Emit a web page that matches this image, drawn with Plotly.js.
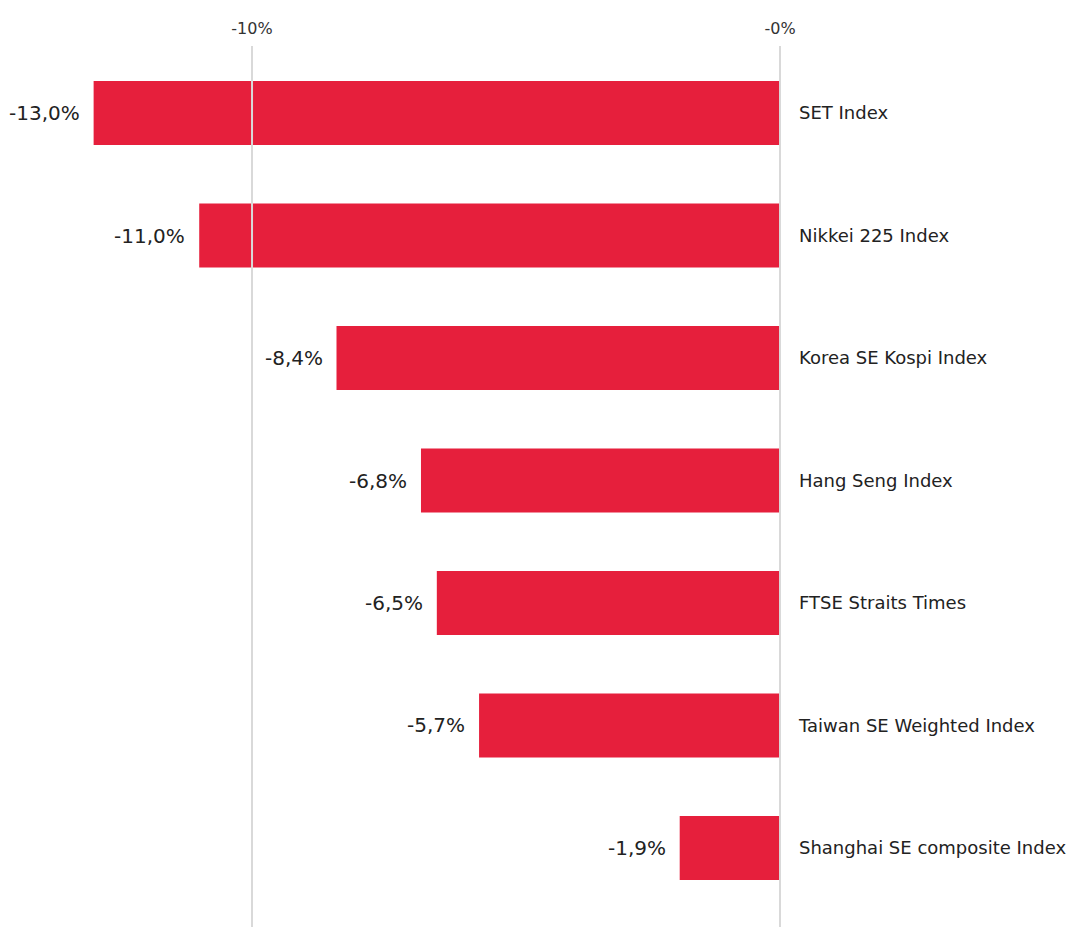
<!DOCTYPE html>
<html>
<head>
<meta charset="utf-8">
<script src="https://cdn.plot.ly/plotly-3.0.1.min.js"></script>
<style>html,body{margin:0;padding:0;background:#fff;}#chart{width:1080px;height:927px;}</style>
</head>
<body>
<div id="chart"></div>
<script>
const categories = ["SET Index","Nikkei 225 Index","Korea SE Kospi Index","Hang Seng Index","FTSE Straits Times","Taiwan SE Weighted Index","Shanghai SE composite Index"];
const values = [-13.0, -11.0, -8.4, -6.8, -6.5, -5.7, -1.9];
const tickVals = [-10, 0];
const tickText = ["-10%", "-0%"];

const FONT = "DejaVu Sans, Noto Sans, sans-serif";
const labels = values.map(v => v.toFixed(1).replace('.', ',') + '%');

const trace = {
  type: 'bar',
  orientation: 'h',
  x: values,
  y: categories,
  width: 0.522,
  marker: {color: '#e61f3c'},
  hoverinfo: 'none'
};

const annotations = values.map((v, i) => ({
  x: v, y: categories[i], xref: 'x', yref: 'y',
  text: labels[i], showarrow: false,
  xanchor: 'right', yanchor: 'middle', xshift: -12,
  font: {family: FONT, size: 20, color: '#222'}
}));

// grid lines drawn above the bars, at the tick positions
const shapes = tickVals.map(t => ({
  type: 'line', layer: 'above',
  xref: 'x', yref: 'paper', x0: t, x1: t, y0: 0, y1: 1,
  line: {color: '#d9d9d9', width: 2}
}));

const layout = {
  width: 1080, height: 927,
  margin: {l: 0, r: 290, t: 46, b: 0, pad: 0},
  paper_bgcolor: '#fff', plot_bgcolor: '#fff',
  showlegend: false,
  xaxis: {
    side: 'top', range: [-14.773, 0.189], autorange: false,
    tickvals: tickVals, ticktext: tickText,
    showgrid: false, zeroline: false, showline: false, ticks: '',
    ticklabelstandoff: 8,
    tickfont: {family: FONT, size: 16, color: '#333'},
    fixedrange: true
  },
  yaxis: {
    type: 'category', side: 'right',
    range: [6.645, -0.547], autorange: false,
    showgrid: false, zeroline: false, showline: false, ticks: '',
    ticklabelstandoff: 8,
    tickfont: {family: FONT, size: 18, color: '#222'},
    fixedrange: true
  },
  shapes: shapes,
  annotations: annotations
};

Plotly.newPlot('chart', [trace], layout, {staticPlot: true, displayModeBar: false});
</script>
</body>
</html>
